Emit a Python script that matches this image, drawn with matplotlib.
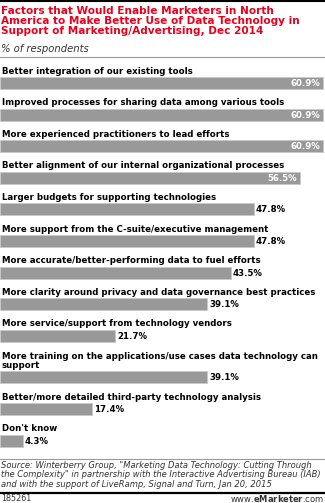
import numpy as np
import matplotlib.pyplot as plt

labels = [
    "Better integration of our existing tools",
    "Improved processes for sharing data among various tools",
    "More experienced practitioners to lead efforts",
    "Better alignment of our internal organizational processes",
    "Larger budgets for supporting technologies",
    "More support from the C-suite/executive management",
    "More accurate/better-performing data to fuel efforts",
    "More clarity around privacy and data governance best practices",
    "More service/support from technology vendors",
    "More training on the applications/use cases data technology can\nsupport",
    "Better/more detailed third-party technology analysis",
    "Don't know",
]
values = [60.9, 60.9, 60.9, 56.5, 47.8, 47.8, 43.5, 39.1, 21.7, 39.1, 17.4, 4.3]

title = ("Factors that Would Enable Marketers in North\n"
         "America to Make Better Use of Data Technology in\n"
         "Support of Marketing/Advertising, Dec 2014")
subtitle = "% of respondents"
source = ("Source: Winterberry Group, \"Marketing Data Technology: Cutting Through\n"
          "the Complexity\" in partnership with the Interactive Advertising Bureau (IAB)\n"
          "and with the support of LiveRamp, Signal and Turn, Jan 20, 2015")

W, H = 325, 503
fig = plt.figure(figsize=(W / 100, H / 100), dpi=100)
fig.patch.set_facecolor('white')

# whole-figure overlay in pixel coords for text and rules
ov = fig.add_axes([0, 0, 1, 1])
ov.set_xlim(0, W)
ov.set_ylim(H, 0)
ov.axis('off')

ov.plot([0, W], [0.8, 0.8], color='black', lw=1.5, solid_capstyle='butt')
ov.text(1, 5.5, title, color='#e8001c', fontsize=7.6, fontweight='bold',
        va='top', ha='left', linespacing=1.05)
ov.text(1, 43.5, subtitle, color='#333333', fontsize=7.2, style='italic',
        va='top', ha='left')
ov.plot([0, 324], [57, 57], color='#999999', lw=0.8)

# bar axes: x in percent, y in pixel rows
bx = fig.add_axes([0, 0, 1, 1], facecolor='none')
xmax = 60.9 * W / 323
bx.set_xlim(0, xmax)
bx.set_ylim(H, 0)
bx.axis('off')

centers = []
y = 83
for lab in labels:
    if '\n' in lab:
        y += 10
    centers.append(y)
    y += 31.6

bx.barh(centers, values, height=12, color='#999999', edgecolor='#c8c8c8',
        linewidth=0.6, left=0)

for c, lab, v in zip(centers, labels, values):
    bx.text(0.3, c - 7.5, lab, fontsize=6.2, fontweight='bold', color='black',
            va='bottom', ha='left', linespacing=1.05)
    if v > 55:
        bx.text(v - 0.5, c + 0.5, f"{v:.1f}%", fontsize=6.2, fontweight='bold',
                color='white', va='center', ha='right')
    else:
        bx.text(v + 0.4, c + 0.5, f"{v:.1f}%", fontsize=6.2, fontweight='bold',
                color='black', va='center', ha='left')

ov.plot([0, W], [459, 459], color='#999999', lw=0.8)
ov.text(1, 461, source, fontsize=6.0, style='italic', color='#333333',
        va='top', ha='left', linespacing=1.05)
ov.plot([0, W], [492.5, 492.5], color='black', lw=1.6)
ov.text(1, 498.5, "185261", fontsize=5.8, color='#333333', va='center', ha='left')
ov.text(W - 1, 498.5, "www.$\\bf{eMarketer}$.com", fontsize=6, color='#333333',
        va='center', ha='right')

fig.savefig('out.png', dpi=100, facecolor='white')
